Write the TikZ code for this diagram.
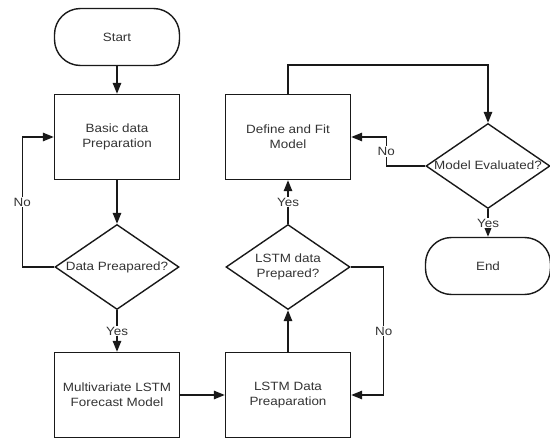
\documentclass[tikz,border=0pt]{standalone}
\usepackage{fontspec}
\setmainfont{Liberation Sans}[FakeStretch=1.12]
\usetikzlibrary{arrows.meta,shapes.geometric,positioning}
\newcommand{\zw}[1]{\makebox[0pt]{\begin{tabular}{@{}c@{}}#1\end{tabular}}} % text that does not size the diamond

\begin{document}
\begin{tikzpicture}[x=1pt,y=-1pt,
  every node/.style={font=\fontsize{12}{15}\selectfont, text=black!80},
  term/.style={draw=black!90, line width=1.4pt, rounded corners=26pt, minimum width=125pt, minimum height=57pt},
  proc/.style={draw=black!90, rectangle, line width=1.4pt, minimum width=125pt, minimum height=85pt, align=center},
  decis/.style={draw=black!90, diamond, line width=1.4pt, minimum width=124pt, minimum height=85pt, inner sep=0pt},
  flow/.style={draw=black!90, line width=1.4pt, -{Triangle[length=11pt,width=8.5pt]}},
  lbl/.style={fill=white, inner sep=1pt}]
  \useasboundingbox (0,0) rectangle (550,439); %Fix page size

  \node[term] (start) at (117,37) {Start}; %Start terminal
  \node[proc] (basic) at (117,137) {Basic data\\Preparation};
  \node[decis] (dataq) at (117,267) {\zw{Data Preapared?}};
  \node[proc] (multi) at (117,395) {Multivariate LSTM\\Forecast Model};
  \node[proc] (lstm) at (288,395) {LSTM Data\\Preaparation};
  \node[decis] (lstmq) at (288,267) {\zw{LSTM data\\Prepared?}};
  \node[proc] (fit) at (288,137) {Define and Fit\\Model};
  \node[decis] (evalq) at (488,166) {\zw{Model Evaluated?}};
  \node[term] (end) at (488,266) {End}; %End terminal

  \draw[flow] (start) -- (basic);
  \draw[flow] (basic) -- (dataq);
  \draw[flow] (dataq) -- node[lbl]{Yes} (multi);
  \draw[flow] (dataq.west) -- ++(-32,0) |- node[lbl,pos=0.25]{No} (basic.west); %Loop back
  \draw[flow] (multi) -- (lstm);
  \draw[flow] (lstm) -- (lstmq);
  \draw[flow] (lstmq.east) -- ++(33,0) |- node[lbl,pos=0.25]{No} (lstm.east); %Loop back
  \draw[flow] (lstmq) -- node[lbl]{Yes} (fit);
  \draw[flow] (fit.north) -- ++(0,-29) -| (evalq.north); %Over the top
  \draw[flow] (evalq.west) -- ++(-39,0) |- node[lbl,pos=0.25]{No} (fit.east); %Loop back
  \draw[flow] (evalq) -- node[lbl]{Yes} (end);
\end{tikzpicture}
\end{document}
